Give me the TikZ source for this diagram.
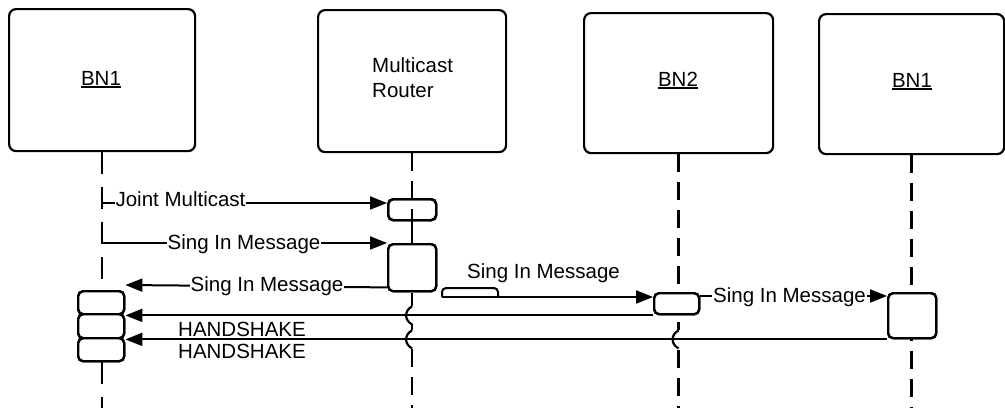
\documentclass[tikz,border=0pt]{standalone}
\usepackage{fontspec}
\setmainfont{Liberation Sans}
\usetikzlibrary{arrows.meta}
\newcommand{\ulbox}[1]{\setbox0\hbox{#1}\rlap{\vrule height -1.2pt depth 3.2pt width \wd0}\box0}
\begin{document}
\begin{tikzpicture}[x=1pt,y=-1pt,
  headbox/.style={draw,line width=2.2pt,rounded corners=7pt,inner sep=0pt,anchor=north west},
  actbox/.style={draw,line width=2.4pt,rounded corners=5pt,fill=white,inner sep=0pt,anchor=north west},
  life/.style={line width=2.4pt,dash pattern=on 18pt off 10pt},
  msg/.style={line width=2pt,-{Triangle[length=17pt,width=13pt]}},
  txt/.style={inner sep=0pt,anchor=base,font=\fontsize{20.5}{24}\selectfont},
  mlabel/.style={txt,fill=white,inner sep=1pt},
  hop/.style={line width=2.2pt}]
\useasboundingbox (0,0) rectangle (1005,408);
% head boxes
\node[headbox,minimum width=186pt,minimum height=142pt] (h1) at (8,8) {};
\node[headbox,minimum width=188pt,minimum height=142pt] (h2) at (317,9) {};
\node[headbox,minimum width=189pt,minimum height=140pt] (h3) at (583,12) {};
\node[headbox,minimum width=185pt,minimum height=140pt] (h4) at (818,13) {};
\node[txt] (t1) at (101,85) {\ulbox{BN1}};
\node[txt,anchor=base west] (t2) at (372,72) {Multicast};
\node[txt,anchor=base west] (t2b) at (372,97) {Router};
\node[txt] (t3) at (678,86) {\ulbox{BN2}};
\node[txt] (t4) at (912,87) {\ulbox{BN1}};
% lifelines
\coordinate (e1) at (h1.south |- 0,408);
\coordinate (e2) at (h2.south |- 0,408);
\coordinate (e3) at (h3.south |- 0,408);
\coordinate (e4) at (h4.south |- 0,408);
\draw[life,dash pattern=on 22pt off 13pt] (h1.south) -- (e1);
\draw[life] (h2.south) -- (e2);
\draw[life] (h3.south) -- (e3);
\draw[life] (h4.south) -- (e4);
% activation boxes (positions)
\node[actbox,fill=none,minimum width=48pt,minimum height=21pt] (r1) at (387,198) {};
\node[actbox,minimum width=48pt,minimum height=47pt] (r2) at (387,243) {};
\draw[line width=2.4pt] (r1.south) -- (r2.north);
\node[actbox,minimum width=46pt,minimum height=23pt] (a1) at (77,290) {};
\node[actbox,minimum width=46pt,minimum height=24pt] (a2) at (77,313) {};
\node[actbox,minimum width=46pt,minimum height=23pt] (a3) at (77,337) {};
\node[actbox,minimum width=45pt,minimum height=21pt] (b2) at (653,292) {};
\node[actbox,minimum width=48pt,minimum height=45pt] (b4) at (887,292) {};
% line hops
\coordinate (c1) at (h2.south |- a1.south east);
\coordinate (c2) at (h2.south |- a2.south east);
\coordinate (c3) at (h3.south |- a2.south east);
\foreach \c in {c1,c2,c3}{
  \fill[white] ([xshift=-4pt,yshift=9pt]\c) rectangle ([xshift=4pt,yshift=-9pt]\c);
  \draw[hop] ([yshift=9pt]\c) .. controls ([xshift=-8pt,yshift=5pt]\c) and ([xshift=-8pt,yshift=-5pt]\c) .. ([yshift=-9pt]\c);
}
% messages
\coordinate (j1) at (h1.south |- 0,203);
\coordinate (j2) at (h1.south |- r2.north);
\draw[msg] (j1) -- (r1.west |- j1);
\draw[msg] (j2) -- (r2.north west);
\draw[msg] ([yshift=5pt]r2.south west) -- ([yshift=5pt]a1.north east);
\coordinate (m4) at (442,297);
\draw[line width=2pt,rounded corners=4pt] (m4) |- (498,288) -- (498,297);
\draw[msg] (m4) -- (b2.west |- m4);
\coordinate (m5) at (b2.east |- 0,296);
\draw[msg] (m5) -- (b4.west |- m5);
\draw[msg] (b2.south west) -- (a1.south east);
\draw[msg] (b4.south west) -- (a2.south east);
% redraw activation boxes on top
\node[actbox,fill=none,minimum width=48pt,minimum height=21pt] at (387,198) {};
\node[actbox,minimum width=48pt,minimum height=47pt] at (387,243) {};
\node[actbox,minimum width=46pt,minimum height=23pt] at (77,290) {};
\node[actbox,minimum width=46pt,minimum height=24pt] at (77,313) {};
\node[actbox,minimum width=46pt,minimum height=23pt] at (77,337) {};
\node[actbox,minimum width=45pt,minimum height=21pt] at (653,292) {};
\node[actbox,minimum width=48pt,minimum height=45pt] at (887,292) {};
% labels
\node[mlabel] (l1) at (180.5,206) {Joint Multicast};
\node[mlabel] (l2) at (244,249) {Sing In Message};
\node[mlabel] (l3) at (267,291) {Sing In Message};
\node[txt] (l4) at (543.5,278) {Sing In Message};
\node[mlabel] (l5) at (789.5,302) {Sing In Message};
\node[txt] (l6) at (242,336) {HANDSHAKE};
\node[txt] (l7) at (242,358) {HANDSHAKE};
\end{tikzpicture}
\end{document}
